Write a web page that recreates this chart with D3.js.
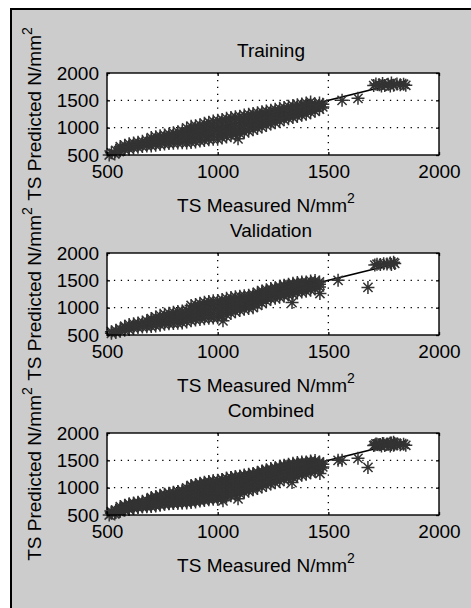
<!DOCTYPE html>
<html lang="en">
<head>
  <meta charset="UTF-8">
  <title>TS predicted vs measured</title>
  <style type="text/css">
    body{
      margin: 0;
      background: #fff;
    }
    text{
      font-family: "Liberation Sans", Arial, sans-serif;
      fill: #000;
    }
  </style>
  <script type="text/javascript" src="https://d3js.org/d3.v7.min.js"></script>
</head>
<body>
<script type="text/javascript">
  // data: [measured, predicted]
  var titles = ['Training', 'Validation', 'Combined'];
  var ticks = [500, 1000, 1500, 2000];

  var trainPts = [
    [510,500],[520,540],[535,520],[540,585],[555,560],
    [560,580],[560,620],[560,655],
    [580,600],[580,640],[580,680],
    [600,610],[600,655],[600,705],
    [620,630],[620,675],[620,720],
    [640,640],[640,690],[640,735],
    [660,655],[660,700],[660,750],
    [680,665],[680,715],[680,765],
    [700,665],[700,720],[700,770],[700,820],
    [720,680],[720,735],[720,785],[720,835],
    [740,690],[740,745],[740,800],[740,850],
    [760,700],[760,755],[760,810],[760,865],
    [780,710],[780,770],[780,830],[780,885],
    [800,715],[800,780],[800,845],[800,905],
    [820,720],[820,790],[820,860],[820,925],
    [840,725],[840,800],[840,870],[840,945],
    [860,720],[860,790],[860,860],[860,930],[860,995],
    [880,730],[880,805],[880,880],[880,955],[880,1025],
    [900,740],[900,815],[900,890],[900,965],[900,1035],
    [920,755],[920,830],[920,905],[920,980],[920,1055],
    [940,765],[940,845],[940,925],[940,1000],[940,1080],
    [960,780],[960,860],[960,940],[960,1020],[960,1100],
    [980,790],[980,875],[980,955],[980,1040],[980,1120],
    [1000,790],[1000,875],[1000,960],[1000,1050],[1000,1135],
    [1020,810],[1020,895],[1020,980],[1020,1065],[1020,1150],
    [1040,830],[1040,915],[1040,1000],[1040,1085],[1040,1170],
    [1060,850],[1060,935],[1060,1020],[1060,1105],[1060,1185],
    [1080,870],[1080,955],[1080,1040],[1080,1125],[1080,1200],
    [1100,890],[1100,970],[1100,1050],[1100,1130],[1100,1210],
    [1120,915],[1120,995],[1120,1075],[1120,1155],[1120,1230],
    [1140,935],[1140,1015],[1140,1095],[1140,1170],[1140,1245],
    [1160,960],[1160,1035],[1160,1110],[1160,1185],[1160,1260],
    [1180,985],[1180,1060],[1180,1135],[1180,1205],[1180,1275],
    [1200,1010],[1200,1080],[1200,1150],[1200,1220],[1200,1290],
    [1220,1040],[1220,1105],[1220,1170],[1220,1240],[1220,1305],
    [1240,1065],[1240,1130],[1240,1195],[1240,1260],[1240,1320],
    [1260,1090],[1260,1155],[1260,1215],[1260,1275],[1260,1335],
    [1280,1115],[1280,1180],[1280,1240],[1280,1300],[1280,1355],
    [1300,1145],[1300,1220],[1300,1295],[1300,1370],
    [1320,1165],[1320,1240],[1320,1315],[1320,1390],
    [1340,1185],[1340,1260],[1340,1335],[1340,1405],
    [1360,1205],[1360,1280],[1360,1350],[1360,1420],
    [1380,1225],[1380,1300],[1380,1370],[1380,1435],
    [1400,1245],[1400,1320],[1400,1390],[1400,1450],
    [1420,1275],[1420,1345],[1420,1415],[1420,1470],
    [1440,1300],[1440,1365],[1440,1430],
    [1460,1340],[1460,1400],[1460,1450],
    [1475,1380],[1475,1430],
    [1092,796],[1562,1500],[1634,1537],
    [1705,1770],[1715,1800],[1730,1785],[1745,1810],[1755,1770],[1770,1795],[1785,1815],
    [1795,1775],[1810,1800],[1825,1785],[1840,1795],[1850,1775],[1740,1760],[1780,1760]
  ];

  var validPts = [
    [520,530],[520,560],[540,545],[540,585],[560,570],[560,610],
    [580,585],[580,630],[580,660],
    [600,600],[600,645],[600,690],
    [620,625],[620,665],[620,705],
    [640,635],[640,680],[640,720],
    [660,645],[660,690],[660,740],
    [680,650],[680,705],[680,760],
    [700,655],[700,715],[700,770],[700,800],
    [720,665],[720,725],[720,785],[720,830],
    [740,680],[740,740],[740,800],[740,860],
    [760,695],[760,755],[760,815],[760,880],
    [780,705],[780,765],[780,830],[780,900],
    [800,710],[800,780],[800,850],[800,915],
    [820,715],[820,790],[820,860],[820,930],
    [840,720],[840,795],[840,870],[840,940],
    [860,740],[860,815],[860,885],[860,960],
    [880,760],[880,830],[880,900],[880,975],[880,1040],
    [900,775],[900,845],[900,915],[900,990],[900,1060],
    [920,785],[920,860],[920,935],[920,1010],[920,1080],
    [940,795],[940,875],[940,950],[940,1030],[940,1100],
    [960,805],[960,885],[960,965],[960,1045],[960,1115],
    [980,810],[980,890],[980,970],[980,1050],[980,1125],
    [1000,815],[1000,895],[1000,975],[1000,1055],[1000,1130],
    [1020,840],[1020,915],[1020,995],[1020,1075],[1020,1150],
    [1040,870],[1040,940],[1040,1015],[1040,1095],[1040,1170],
    [1060,895],[1060,965],[1060,1040],[1060,1115],[1060,1185],
    [1080,925],[1080,990],[1080,1060],[1080,1135],[1080,1200],
    [1100,950],[1100,1015],[1100,1085],[1100,1150],[1100,1210],
    [1120,970],[1120,1040],[1120,1105],[1120,1170],[1120,1220],
    [1140,985],[1140,1055],[1140,1120],[1140,1185],[1140,1225],
    [1160,1000],[1160,1070],[1160,1140],[1160,1205],[1160,1245],
    [1180,1040],[1180,1110],[1180,1175],[1180,1245],[1180,1280],
    [1200,1080],[1200,1145],[1200,1210],[1200,1270],[1200,1305],
    [1220,1120],[1220,1180],[1220,1240],[1220,1295],[1220,1330],
    [1240,1160],[1240,1215],[1240,1270],[1240,1320],[1240,1350],
    [1260,1170],[1260,1230],[1260,1285],[1260,1335],[1260,1365],
    [1280,1190],[1280,1250],[1280,1310],[1280,1360],[1280,1390],
    [1300,1210],[1300,1270],[1300,1330],[1300,1385],[1300,1410],
    [1320,1230],[1320,1290],[1320,1345],[1320,1400],[1320,1430],
    [1340,1250],[1340,1310],[1340,1360],[1340,1415],[1340,1445],
    [1360,1270],[1360,1325],[1360,1380],[1360,1430],[1360,1460],
    [1380,1285],[1380,1340],[1380,1395],[1380,1445],[1380,1470],
    [1400,1300],[1400,1360],[1400,1420],[1400,1470],
    [1420,1320],[1420,1380],[1420,1440],[1420,1490],
    [1440,1340],[1440,1400],[1440,1460],[1440,1495],
    [1460,1380],[1460,1430],[1460,1470],
    [1024,759],[1336,1093],[1462,1259],[1544,1500],[1679,1370],
    [1710,1780],[1720,1795],[1735,1790],[1750,1805],[1765,1800],
    [1780,1815],[1795,1830],[1800,1810],[1785,1790]
  ];

  // fitted line (predicted = measured) over each set's measured range
  var fitLines = [
    [[510,510],[1850,1850]],
    [[520,520],[1795,1795]],
    [[510,510],[1850,1850]]
  ];

  var sets = [trainPts, validPts, trainPts.concat(validPts)];

  var width = 471, height = 608;
  var plotLeft = 107, plotRight = 439, plotH = 82;
  var tops = [73, 253, 433];

  var svg = d3.select('body')
    .append('svg')
    .attr('width', width)
    .attr('height', height);

  // grey figure panel
  svg.append('rect')
    .attr('x', 11)
    .attr('y', 9)
    .attr('width', 480)
    .attr('height', 620)
    .attr('fill', '#cccccc')
    .attr('stroke', '#000')
    .attr('stroke-width', 2);

  var xScale = d3.scaleLinear()
    .domain([500, 2000])
    .range([plotLeft, plotRight]);

  var star = 'M-6.5,0H6.5M0,-6.5V6.5M-4.6,-4.6L4.6,4.6M-4.6,4.6L4.6,-4.6';

  sets.forEach(function(pts, i){
    var top = tops[i], bottom = top + plotH;
    var yScale = d3.scaleLinear()
      .domain([500, 2000])
      .range([bottom, top]);

    var g = svg.append('g');

    g.append('rect')
      .attr('x', plotLeft)
      .attr('y', top)
      .attr('width', plotRight - plotLeft)
      .attr('height', plotH)
      .attr('fill', '#fff');

    // dotted grid
    g.selectAll('.gx')
      .data(ticks.slice(1, -1))
      .enter().append('line')
      .attr('x1', function(d){ return xScale(d); })
      .attr('x2', function(d){ return xScale(d); })
      .attr('y1', top)
      .attr('y2', bottom)
      .attr('stroke', '#000')
      .attr('stroke-width', 1.3)
      .attr('stroke-dasharray', '1.3,5.6');

    g.selectAll('.gy')
      .data(ticks.slice(1, -1))
      .enter().append('line')
      .attr('x1', plotLeft)
      .attr('x2', plotRight)
      .attr('y1', function(d){ return yScale(d); })
      .attr('y2', function(d){ return yScale(d); })
      .attr('stroke', '#000')
      .attr('stroke-width', 1.3)
      .attr('stroke-dasharray', '1.3,5.6');

    g.append('path')
      .datum(fitLines[i])
      .attr('d', d3.line()
        .x(function(d){ return xScale(d[0]); })
        .y(function(d){ return yScale(d[1]); }))
      .attr('fill', 'none')
      .attr('stroke', '#000')
      .attr('stroke-width', 1.6);

    g.selectAll('.pt')
      .data(pts)
      .enter().append('path')
      .attr('class', 'pt')
      .attr('transform', function(d){
        return 'translate(' + xScale(d[0]) + ',' + yScale(d[1]) + ')';
      })
      .attr('d', star)
      .attr('fill', 'none')
      .attr('stroke', '#333333')
      .attr('stroke-width', 1.5);

    // box
    g.append('rect')
      .attr('x', plotLeft)
      .attr('y', top)
      .attr('width', plotRight - plotLeft)
      .attr('height', plotH)
      .attr('fill', 'none')
      .attr('stroke', '#000')
      .attr('stroke-width', 1.4);

    var axes = [
      {ax: d3.axisBottom(xScale).tickPadding(10).tickFormat(d3.format('d')), tr: 'translate(0,' + bottom + ')'},
      {ax: d3.axisTop(xScale).tickFormat(''), tr: 'translate(0,' + top + ')'},
      {ax: d3.axisLeft(yScale).tickPadding(8).tickFormat(d3.format('d')), tr: 'translate(' + plotLeft + ',0)'},
      {ax: d3.axisRight(yScale).tickFormat(''), tr: 'translate(' + plotRight + ',0)'}
    ];
    axes.forEach(function(a){
      var ag = g.append('g')
        .attr('transform', a.tr)
        .call(a.ax.tickValues(ticks).tickSizeInner(-3).tickSizeOuter(0));
      ag.select('.domain').remove();
      ag.attr('font-size', 19)
        .attr('font-family', '"Liberation Sans", Arial, sans-serif')
        .style('color', '#000');
      ag.selectAll('line').attr('stroke-width', 1.3);
    });

    g.append('text')
      .attr('x', 271)
      .attr('y', top - 16)
      .attr('text-anchor', 'middle')
      .attr('font-size', 19)
      .text(titles[i]);

    var xl = g.append('text')
      .attr('x', 266)
      .attr('y', bottom + 57)
      .attr('text-anchor', 'middle')
      .attr('font-size', 19)
      .text('TS Measured N/mm');
    xl.append('tspan').attr('dy', -9).attr('font-size', 14).text('2');

    var yl = g.append('text')
      .attr('transform', 'translate(41,' + (top + plotH / 2) + ') rotate(-90)')
      .attr('text-anchor', 'middle')
      .attr('font-size', 19)
      .text('TS Predicted N/mm');
    yl.append('tspan').attr('dy', -9).attr('font-size', 14).text('2');
  });
</script>
</body>
</html>
